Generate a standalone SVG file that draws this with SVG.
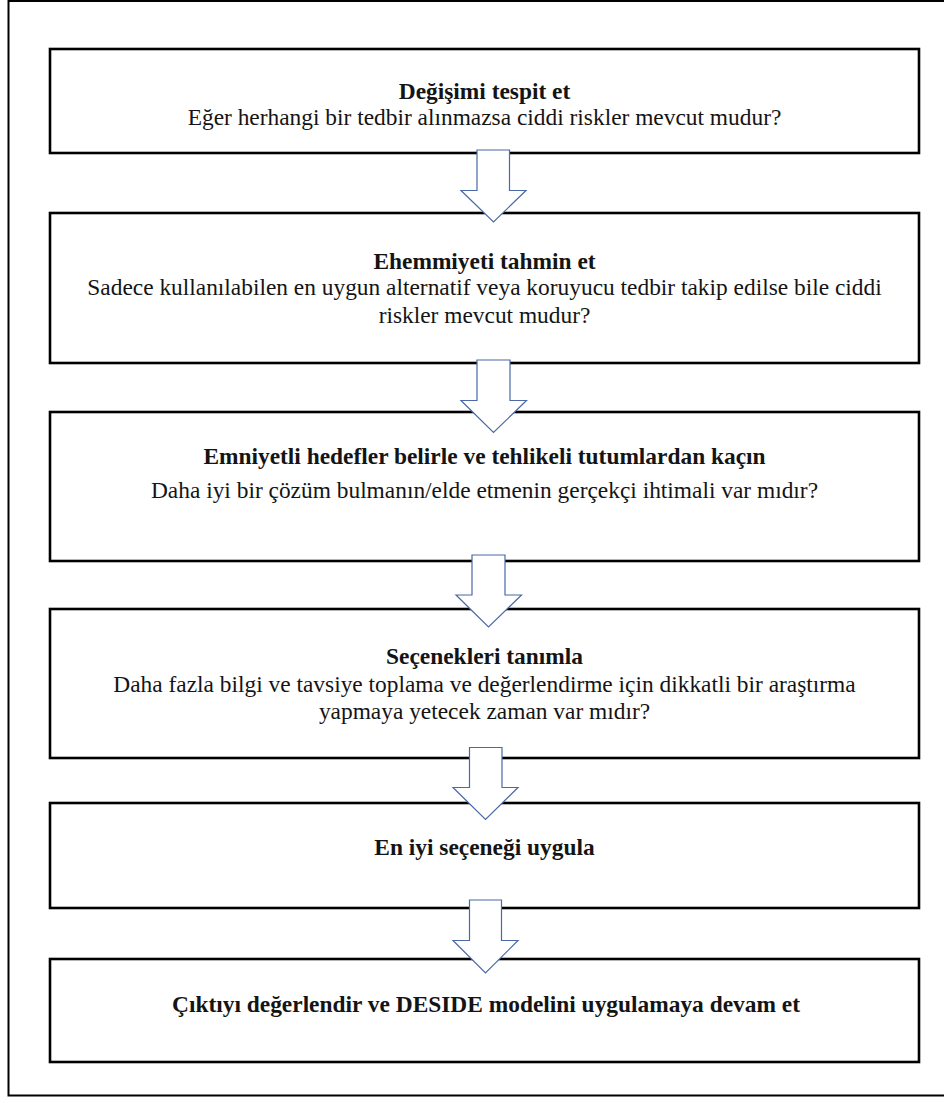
<svg xmlns="http://www.w3.org/2000/svg" width="944" height="1097" viewBox="0 0 944 1097">
  <style>
    .frame { fill: #ffffff; stroke: #000000; stroke-width: 2; }
    .box { fill: #ffffff; stroke: #000000; stroke-width: 2.6; }
    .arrow { fill: #ffffff; stroke: #4a69a6; stroke-width: 1.2; stroke-linejoin: miter; }
    .t { font-family: 'Liberation Serif', 'Tinos', 'Times New Roman', 'DejaVu Serif', serif; font-size: 23.4px; fill: #141414; text-anchor: middle; }
    .title { font-weight: bold; }
  </style>

  <!-- outer frame -->
  <rect class="frame" x="8.5" y="1" width="940" height="1094.5"/>

  <!-- process steps -->
  <g id="step1">
    <rect class="box" x="50" y="49" width="869" height="104"/>
    <text class="t title" x="484.5" y="99">Değişimi tespit et</text>
    <text class="t" x="484.5" y="125">Eğer herhangi bir tedbir alınmazsa ciddi riskler mevcut mudur?</text>
  </g>

  <g id="step2">
    <rect class="box" x="50" y="213" width="869" height="150"/>
    <text class="t title" x="484.5" y="269">Ehemmiyeti tahmin et</text>
    <text class="t" x="484.5" y="295">Sadece kullanılabilen en uygun alternatif veya koruyucu tedbir takip edilse bile ciddi</text>
    <text class="t" x="484.5" y="323">riskler mevcut mudur?</text>
  </g>

  <g id="step3">
    <rect class="box" x="50" y="412" width="869" height="149"/>
    <text class="t title" x="484.5" y="464">Emniyetli hedefler belirle ve tehlikeli tutumlardan kaçın</text>
    <text class="t" x="484.5" y="498">Daha iyi bir çözüm bulmanın/elde etmenin gerçekçi ihtimali var mıdır?</text>
  </g>

  <g id="step4">
    <rect class="box" x="50" y="609" width="869" height="149"/>
    <text class="t title" x="484.5" y="664">Seçenekleri tanımla</text>
    <text class="t" x="484.5" y="692">Daha fazla bilgi ve tavsiye toplama ve değerlendirme için dikkatli bir araştırma</text>
    <text class="t" x="484.5" y="719">yapmaya yetecek zaman var mıdır?</text>
  </g>

  <g id="step5">
    <rect class="box" x="50" y="803" width="869" height="105"/>
    <text class="t title" x="484.5" y="855">En iyi seçeneği uygula</text>
  </g>

  <g id="step6">
    <rect class="box" x="50" y="959" width="869" height="103"/>
    <text class="t title" x="486" y="1012">Çıktıyı değerlendir ve DESIDE modelini uygulamaya devam et</text>
  </g>

  <!-- block arrows between steps -->
  <g id="connectors">
    <polygon class="arrow" points="477,150 509.5,150 509.5,190.5 526,190.5 493.5,222 461,190.5 477,190.5"/>
    <polygon class="arrow" points="477,360 510,360 510,400.5 526.5,400.5 493.5,432.5 461,400.5 477,400.5"/>
    <polygon class="arrow" points="472,555 505,555 505,595 521.5,595 488.5,627 456,595 472,595"/>
    <polygon class="arrow" points="469.5,747.5 502,747.5 502,787.5 518,787.5 485.5,819.5 453,787.5 469.5,787.5"/>
    <polygon class="arrow" points="469.5,900 501.5,900 501.5,940.5 518,940.5 485.5,973 453,940.5 469.5,940.5"/>
  </g>
</svg>
